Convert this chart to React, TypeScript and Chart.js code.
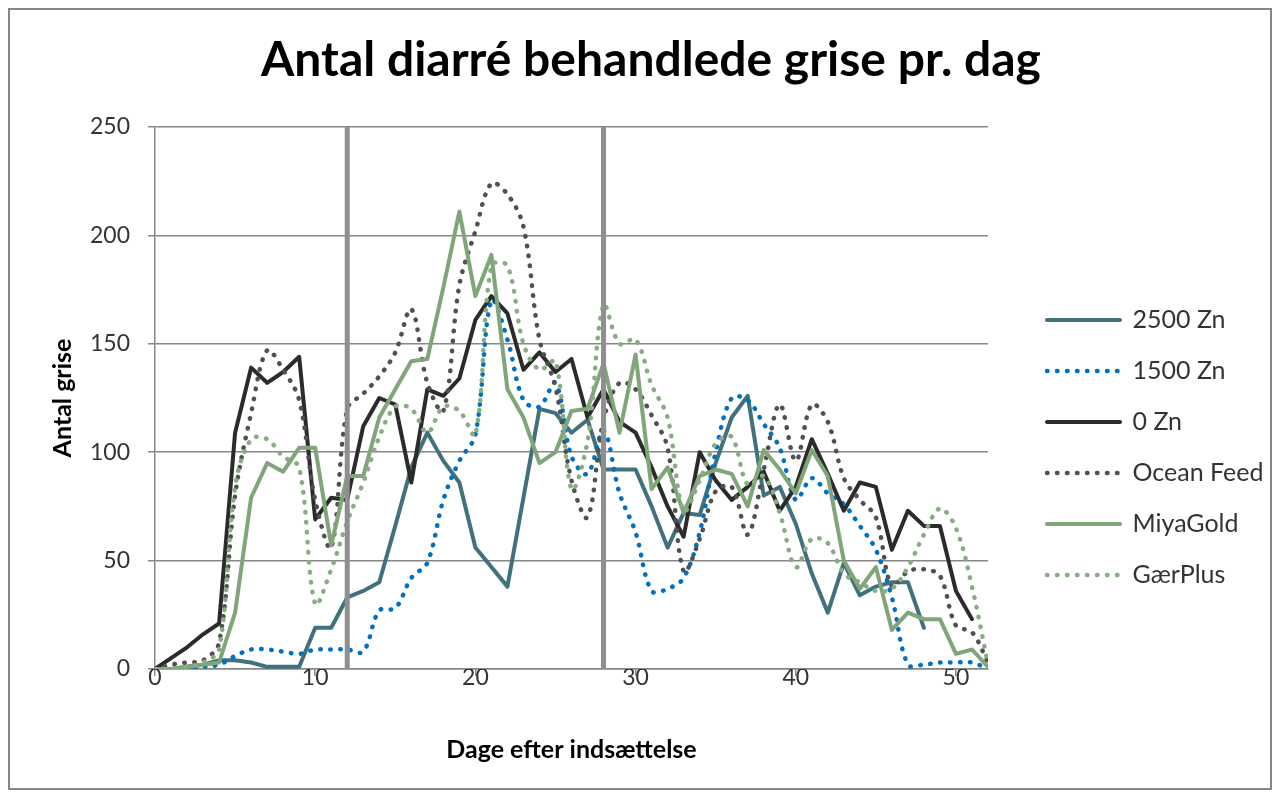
import { useEffect, useRef } from 'react';
import { Chart, registerables } from 'chart.js';

Chart.register(...registerables);

// ---- data (x = day index 0,1,2,...) ----
const SERIES_NAMES = ['2500 Zn', '1500 Zn', '0 Zn', 'Ocean Feed', 'MiyaGold', 'GærPlus'];

const zn2500 = [0, 0, 1, 2, 4, 4, 3, 1, 1, 1, 19, 19, 33, 36, 40, 66, 93, 109, 96, 86, 56, 47, 38, 79, 120, 118, 109, 115, 92, 92, 92, 75, 56, 72, 71, 95, 116, 126, 80, 84, 67, 44, 26, 49, 34, 38, 40, 40, 19];
const zn1500 = [0, 0, 0, 1, 2, 6, 9, 9, 8, 7, 9, 9, 9, 8, 27, 28, 42, 49, 78, 96, 108, 170, 152, 124, 121, 132, 98, 90, 110, 81, 63, 36, 37, 42, 63, 100, 125, 124, 113, 102, 78, 88, 81, 76, 66, 55, 33, 2, 2, 3, 3, 3, 0];
const zn0 = [0, 5, 10, 16, 21, 109, 139, 132, 137, 144, 69, 79, 78, 112, 125, 122, 86, 129, 126, 134, 161, 172, 164, 138, 146, 137, 143, 116, 129, 114, 109, 93, 75, 61, 100, 87, 78, 84, 91, 73, 84, 106, 90, 73, 86, 84, 55, 73, 66, 66, 36, 23];
const oceanFeed = [0, 2, 3, 4, 12, 80, 118, 147, 138, 124, 78, 56, 120, 127, 135, 146, 166, 132, 119, 177, 202, 224, 219, 204, 152, 130, 87, 70, 115, 132, 129, 117, 102, 45, 60, 82, 84, 62, 92, 122, 96, 122, 114, 88, 78, 70, 38, 45, 46, 43, 20, 17, 3];
const miyaGold = [0, 0, 1, 2, 3, 26, 79, 95, 91, 102, 102, 57, 89, 89, 116, 129, 142, 143, 176, 211, 172, 191, 129, 116, 95, 100, 119, 120, 141, 109, 145, 83, 93, 72, 89, 92, 90, 75, 101, 92, 81, 101, 89, 50, 37, 47, 18, 26, 23, 23, 7, 9, 1];
const gaerPlus = [0, 0, 1, 3, 9, 84, 106, 106, 98, 93, 30, 46, 68, 86, 107, 121, 120, 109, 121, 119, 108, 186, 186, 150, 138, 142, 83, 105, 168, 150, 152, 131, 116, 73, 87, 104, 107, 85, 89, 72, 47, 60, 58, 44, 40, 36, 37, 47, 62, 74, 65, 38, 2];

const MARKER_DAYS = [12, 28];
const Y_MIN = 0;
const Y_MAX = 250;
const Y_STEP = 50;
const X_MIN = 0;
const X_MAX = 52;
const X_STEP = 10;

const TITLE = 'Antal diarré behandlede grise pr. dag';
const X_TITLE = 'Dage efter indsættelse';
const Y_TITLE = 'Antal grise';

// ---- styles ----
const COLORS = ['#41717d', '#0070c0', '#2b2b2b', '#505050', '#7fa579', '#89ad83'];
const DOTTED = [false, true, false, true, false, true];
const GRID = '#878787';
const MARKER_COLOR = '#8f8f8f';
const TEXT = '#333333';
const FONT = 'Lato';
const CANVAS_W = 1260;
const CANVAS_H = 778;

export default function App() {
  const ref = useRef<HTMLCanvasElement | null>(null);

  useEffect(() => {
    const canvas = ref.current;
    if (!canvas) return;
    const values = [zn2500, zn1500, zn0, oceanFeed, miyaGold, gaerPlus];

    const seriesSets = values.map((vals, i) => ({
      label: SERIES_NAMES[i],
      data: vals.map((v, d) => ({ x: d, y: v })),
      borderColor: COLORS[i],
      backgroundColor: COLORS[i],
      borderWidth: DOTTED[i] ? 4.5 : 4,
      borderDash: DOTTED[i] ? [0.5, 9.5] : [],
      borderCapStyle: 'round' as const,
      borderJoinStyle: 'round' as const,
      pointRadius: 0,
      pointHoverRadius: 0,
      tension: DOTTED[i] ? 0.35 : 0,
      fill: false,
      order: 10 - i,
    }));

    const markerSets = MARKER_DAYS.map((d) => ({
      label: '',
      data: [{ x: d, y: Y_MIN }, { x: d, y: Y_MAX }],
      borderColor: MARKER_COLOR,
      backgroundColor: MARKER_COLOR,
      borderWidth: 5,
      borderCapStyle: 'butt' as const,
      pointRadius: 0,
      pointHoverRadius: 0,
      tension: 0,
      fill: false,
      order: 0,
    }));

    const legendWidthPlugin = {
      id: 'legendWidth',
      afterInit(chart: any) {
        const lg = chart.legend;
        if (lg && !lg.__patched) {
          const orig = lg.fit.bind(lg);
          lg.fit = function () {
            orig();
            this.width = 249;
          };
          lg.__patched = true;
        }
      },
    };

    const chart = new Chart(canvas, {
      type: 'line',
      data: { datasets: [...seriesSets, ...markerSets] as any },
      plugins: [legendWidthPlugin],
      options: {
        responsive: false,
        animation: false,
        events: [],
        layout: { padding: { left: 22, right: 0, top: 0, bottom: 0 } },
        plugins: {
          title: {
            display: true,
            text: TITLE,
            color: '#000000',
            font: { family: FONT, size: 48, weight: 'bold' },
            padding: { top: 22, bottom: 37.4 },
          },
          legend: {
            display: true,
            position: 'right',
            align: 'start',
            title: { display: true, text: '', font: { size: 10, lineHeight: 1 }, padding: { top: 261.5, bottom: 0 } },
            labels: {
              usePointStyle: true,
              pointStyle: 'line',
              pointStyleWidth: 73,
              padding: 26,
              color: TEXT,
              font: { family: FONT, size: 25 },
              generateLabels: (ch: any) =>
                ch.data.datasets
                  .map((ds: any, i: number) => ({
                    text: ds.label,
                    fillStyle: ds.borderColor,
                    strokeStyle: ds.borderColor,
                    fontColor: TEXT,
                    lineWidth: ds.borderWidth,
                    lineDash: ds.borderDash || [],
                    lineCap: ds.borderCapStyle,
                    lineJoin: 'round',
                    pointStyle: 'line',
                    hidden: false,
                    datasetIndex: i,
                  }))
                  .filter((it: any) => it.text !== ''),
            },
          },
          tooltip: { enabled: false },
        },
        scales: {
          x: {
            type: 'linear',
            min: X_MIN,
            max: X_MAX,
            ticks: {
              stepSize: X_STEP,
              includeBounds: false,
              padding: -12,
              maxRotation: 0,
              color: TEXT,
              font: { family: FONT, size: 23 },
            },
            grid: { drawOnChartArea: false, drawTicks: true, tickLength: 7, color: GRID, lineWidth: 1.5 },
            border: { color: GRID, width: 1.5 },
            title: {
              display: true,
              text: X_TITLE,
              color: '#000000',
              font: { family: FONT, size: 25, weight: 'bold' },
              padding: { top: 0, bottom: 23 },
            },
            afterFit: (s: any) => {
              s.height = 119;
            },
          },
          y: {
            min: Y_MIN,
            max: Y_MAX,
            ticks: {
              stepSize: Y_STEP,
              padding: 18,
              color: TEXT,
              font: { family: FONT, size: 23 },
            },
            grid: { color: GRID, lineWidth: 1.5, tickLength: 7, drawTicks: true },
            border: { color: GRID, width: 1.5 },
            title: {
              display: true,
              text: Y_TITLE,
              color: '#000000',
              font: { family: FONT, size: 25, weight: 'bold' },
              padding: { top: 16, bottom: 0 },
            },
            afterFit: (s: any) => {
              s.width = 123;
            },
          },
          yr: {
            position: 'right',
            display: true,
            grid: { display: false },
            border: { display: false },
            ticks: { display: false },
            afterFit: (s: any) => {
              s.width = 33;
            },
          },
        },
      } as any,
    });

    return () => {
      chart.destroy();
    };
  }, []);

  return (
    <div
      style={{
        width: 1264,
        height: 782,
        border: '2px solid #878787',
        boxSizing: 'border-box',
        background: '#ffffff',
      }}
    >
      <canvas
        ref={ref}
        width={CANVAS_W}
        height={CANVAS_H}
        style={{ display: 'block', width: CANVAS_W, height: CANVAS_H }}
      />
    </div>
  );
}
